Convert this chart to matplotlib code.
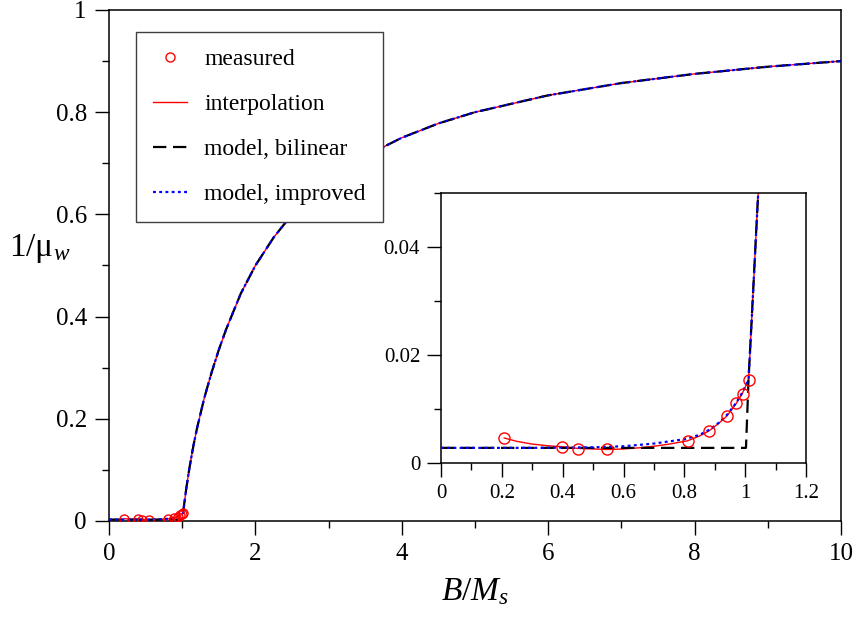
import numpy as np
import matplotlib
matplotlib.use("Agg")
import matplotlib.pyplot as plt
from matplotlib.ticker import MultipleLocator

plt.rcParams['font.family'] = ['Liberation Serif', 'DejaVu Serif']
plt.rcParams['mathtext.fontset'] = 'custom'
plt.rcParams['mathtext.rm'] = 'Liberation Serif'
plt.rcParams['mathtext.it'] = 'Liberation Serif:italic'

# ---------------------------------------------------------
# data

# measured points
b_meas = [0.208, 0.399, 0.452, 0.547, 0.811, 0.882, 0.939, 0.971, 0.993, 1.011]
mu_meas = [0.00463, 0.00296, 0.00265, 0.00253, 0.00407, 0.00593, 0.00864, 0.01105, 0.01278, 0.01543]

# common high-field branch (all curves overlap here)
b_high = [1.011, 1.02, 1.03, 1.04, 1.06, 1.1, 1.15, 1.2, 1.3, 1.4, 1.5, 1.6, 1.8, 2.0,
          2.25, 2.5, 2.75, 3.0, 3.5, 4.0, 4.5, 5.0, 6.0, 7.0, 8.0, 9.0, 10.0]
mu_high = [0.0154, 0.025, 0.036, 0.047, 0.068, 0.105, 0.145, 0.180, 0.240, 0.290, 0.335,
           0.375, 0.445, 0.500, 0.555, 0.600, 0.636, 0.667, 0.714, 0.750, 0.778, 0.800,
           0.833, 0.857, 0.875, 0.889, 0.900]

# interpolation, low-field part
b_interp = [0.208, 0.25, 0.3, 0.35, 0.4, 0.45, 0.5, 0.55, 0.6, 0.65, 0.7, 0.75, 0.81,
            0.85, 0.88, 0.91, 0.94, 0.97, 0.99]
mu_interp = [0.00463, 0.0040, 0.0035, 0.0032, 0.0030, 0.0027, 0.0026, 0.0025, 0.0026,
             0.0028, 0.0031, 0.0035, 0.0041, 0.0050, 0.0059, 0.0072, 0.0087, 0.0110, 0.0128]

# bilinear model, low-field part
b_bilin = [0.0, 0.5, 1.0026]
mu_bilin = [0.0028, 0.0028, 0.0028]

# improved model, low-field part
b_impr = [0.0, 0.3, 0.5, 0.6, 0.7, 0.8, 0.85, 0.88, 0.91, 0.94, 0.97, 0.99]
mu_impr = [0.0028, 0.0028, 0.0029, 0.0031, 0.0036, 0.0044, 0.0052, 0.0061, 0.0073,
           0.0089, 0.0111, 0.0130]

# ---------------------------------------------------------

def draw_curves(ax, ms=6.5, with_labels=False):
  lab = (lambda s: s) if with_labels else (lambda s: None)
  ax.plot(b_interp + b_high, mu_interp + mu_high, color='red', lw=1.0,
          label=lab('interpolation'), zorder=2)
  ax.plot(b_bilin + b_high, mu_bilin + mu_high, color='black', lw=1.6,
          dashes=(6, 3), label=lab('model, bilinear'), zorder=3)
  ax.plot(b_impr + b_high, mu_impr + mu_high, color='blue', lw=1.6,
          dashes=(1.3, 1.5), label=lab('model, improved'), zorder=4)
  ax.plot(b_meas, mu_meas, 'o', mfc='none', mec='red', mew=1.0, ms=ms,
          label=lab('measured'), zorder=5)

def style_axes(ax, labelsize, pad=6):
  ax.tick_params(which='both', direction='out', top=False, right=False,
                 labelsize=labelsize, width=1.0)
  ax.tick_params(which='major', length=10, pad=pad)
  ax.tick_params(which='minor', length=5)
  for sp in ax.spines.values():
    sp.set_linewidth(1.1)

fig = plt.figure(figsize=(8.55, 6.17), dpi=100)

# main axes
ax = fig.add_axes([0.1275, 0.1556, 0.8561, 0.8282])
draw_curves(ax, with_labels=True)
ax.set_xlim(0, 10)
ax.set_ylim(0, 1)
ax.xaxis.set_major_locator(MultipleLocator(2))
ax.xaxis.set_minor_locator(MultipleLocator(1))
ax.yaxis.set_major_locator(MultipleLocator(0.2))
ax.yaxis.set_minor_locator(MultipleLocator(0.1))
ax.xaxis.set_major_formatter(lambda v, p: f"{v:g}")
ax.yaxis.set_major_formatter(lambda v, p: f"{v:g}")
style_axes(ax, 18)
ax.set_xlabel(r'$B/M_s$', fontsize=24, labelpad=8)
ax.set_ylabel(r'1/μ$_w$', fontsize=24, rotation=0, labelpad=0)
ax.yaxis.set_label_coords(-0.095, 0.5)

h, l = ax.get_legend_handles_labels()
order = [3, 0, 1, 2]
leg = ax.legend([h[i] for i in order], [l[i] for i in order],
                loc='upper left', bbox_to_anchor=(136 / 855, 1 - 32 / 617),
                bbox_transform=fig.transFigure, fontsize=17, fancybox=False,
                edgecolor='#404040', framealpha=1, handlelength=1.45,
                labelspacing=1.0, borderpad=0.7, handletextpad=0.75,
                borderaxespad=0)
leg.get_frame().set_linewidth(1.0)

# inset
axi = fig.add_axes([0.5158, 0.2496, 0.4269, 0.4376])
draw_curves(axi, ms=8)
axi.set_xlim(0, 1.2)
axi.set_ylim(0, 0.05)
axi.xaxis.set_major_locator(MultipleLocator(0.2))
axi.xaxis.set_minor_locator(MultipleLocator(0.1))
axi.yaxis.set_major_locator(MultipleLocator(0.02))
axi.yaxis.set_minor_locator(MultipleLocator(0.01))
axi.xaxis.set_major_formatter(lambda v, p: f"{v:g}")
axi.yaxis.set_major_formatter(lambda v, p: f"{v:g}")
style_axes(axi, 15, pad=5)

fig.savefig('out.png', dpi=100)
